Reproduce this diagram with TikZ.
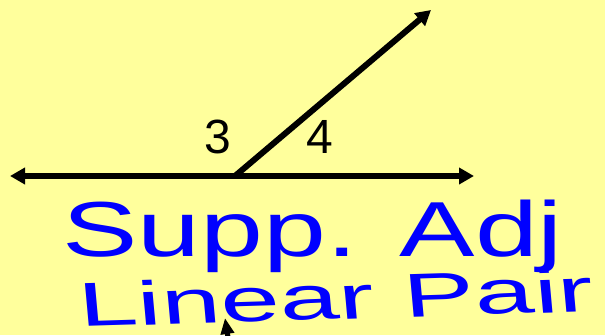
\documentclass[tikz,border=0pt]{standalone}
\usepackage{fontspec}
\setmainfont{Liberation Sans}
\usetikzlibrary{arrows.meta}
\definecolor{bgyellow}{HTML}{FFFF9C}
\definecolor{ink}{HTML}{0000FF}
\tikzset{
  ray/.style={line width=6pt, -{Triangle[length=15pt,width=16pt]}},
  anglelabel/.style={font=\fontsize{48}{48}\selectfont, inner sep=0pt},
  handwriting/.style={text=ink, inner sep=0pt, anchor=base west}
}
\begin{document}
\begin{tikzpicture}[x=1pt,y=-1pt]
\fill[bgyellow] (0,0) rectangle (605,335);
\useasboundingbox (0,0) rectangle (605,335);
\coordinate (V) at (235,176);
\coordinate (L) at (10,176);
\coordinate (R) at (474,176);
\coordinate (T) at (431,10);
\draw[ray] (V) -- (L);
\draw[ray] (V) -- (R);
\draw[ray] (V) -- (T);
\node[anglelabel] (n3) at (218,137) {3};
\node[anglelabel] (n4) at (320,137) {4};
\node[handwriting, font=\fontsize{78}{78}\selectfont, xscale=1.45] (supp) at (62,256) {Supp. Adj};
\node[handwriting, font=\fontsize{62}{62}\selectfont, xscale=1.72, rotate=3] (lin) at (80,327) {Linear Pair};
\coordinate (B0) at (230,350);
\coordinate (B1) at (225,318);
\begin{scope}
\clip (0,0) rectangle (605,335);
\draw[line width=5pt, -{Triangle[length=16pt,width=13pt]}] (B0) -- (B1);
\end{scope}
\end{tikzpicture}
\end{document}
